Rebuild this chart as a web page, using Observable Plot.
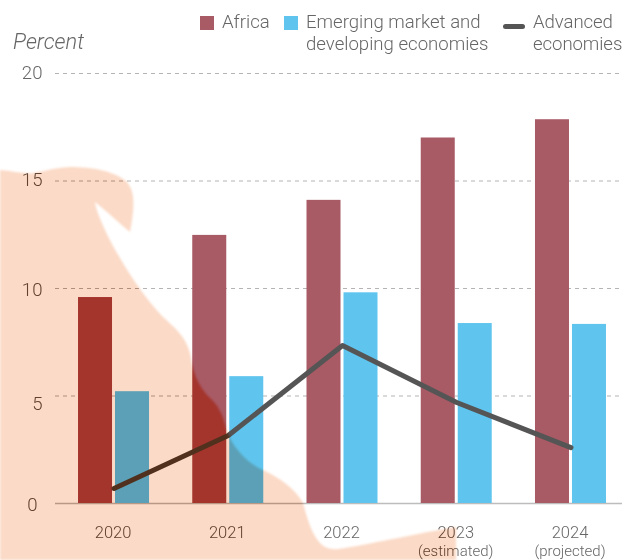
<!DOCTYPE html>
<html>
<head>
<meta charset="utf-8">
<script src="https://cdn.jsdelivr.net/npm/d3@7"></script>
<script src="https://cdn.jsdelivr.net/npm/@observablehq/plot@0.6"></script>
<style>
  html, body { margin: 0; padding: 0; background: #fff; }
  #page { position: relative; width: 622px; height: 560px; overflow: hidden; background: #fff; isolation: isolate;
          font-family: Roboto, "Liberation Sans", sans-serif; font-weight: 300; color: #666; }
  #chart { position: absolute; left: 0; top: 0; }
  #chart svg { display: block; overflow: visible; font-weight: 300; }
  .lg { position: absolute; font-size: 18.6px; line-height: 22px; white-space: pre; }
  .sw { position: absolute; width: 14px; height: 14px; top: 16px; }
  #blobwrap { position: absolute; left: 0; top: 0; width: 622px; height: 560px; mix-blend-mode: difference; filter: blur(1.2px); pointer-events: none; }
  #blob { width: 622px; height: 560px; background: rgb(4,37,56);
          clip-path: path("M-10,170 L0,170 C12,171 24,174 33,173 C42,172 52,168 70,167 C92,167 115,171 127,182 C135,192 135,205 130,232 C118,222 105,210 95,202 C96,212 108,238 120,258 C130,275 145,298 163,317 C175,328 188,338 191,358 C193,372 198,385 208,396 C218,405 222,412 226,428 C231,445 245,462 263,470 C278,477 295,488 303,503 C306,513 310,532 320,543 C327,550 335,550 345,548 C375,543 420,533 456,527 L456,570 L-10,570 Z"); }
</style>
</head>
<body>
<div id="page">
  <div id="chart"></div>
  <div class="lg" style="left:13px;top:31px;font-style:italic;font-size:21.8px;">Percent</div>
  <div class="sw" style="left:200px;background:#a85a65;"></div>
  <div class="lg" style="left:222px;top:11px;">Africa</div>
  <div class="sw" style="left:284px;background:#5fc5ee;"></div>
  <div class="lg" style="left:306px;top:11px;">Emerging market and
developing economies</div>
  <div style="position:absolute;left:503px;top:24px;width:22px;height:5px;border-radius:3px;background:#555;"></div>
  <div class="lg" style="left:533px;top:11px;letter-spacing:-0.08px;">Advanced
economies</div>
  <div id="blobwrap"><div id="blob"></div></div>
</div>
<script>
const years = ["2020", "2021", "2022", "2023", "2024"];
const subLabels = ["", "", "", "(estimated)", "(projected)"];
const africa = [9.58, 12.47, 14.1, 17.0, 17.85];
const emerging = [5.2, 5.9, 9.8, 8.37, 8.33];
const advanced = [0.7, 3.16, 7.35, 4.7, 2.6];
const yTicks = [0, 5, 10, 15, 20];
const yTickPadding = [18, 13, 13, 13, 13];
const yTickNudge = [2, 8, 2, -1, 0];

const rows = years.map((year, i) => ({year, africa: africa[i], emerging: emerging[i], advanced: advanced[i]}));

const plot = Plot.plot({
  width: 622,
  height: 560,
  marginLeft: 55,
  marginRight: 0,
  marginTop: 73,
  marginBottom: 57,
  style: {background: "transparent", fontFamily: 'Roboto, "Liberation Sans", sans-serif'},
  x: {domain: years, type: "band", range: [56.4, 627.6], paddingInner: 0.7024, paddingOuter: 0.3512, round: false, label: null},
  y: {domain: [0, 20], range: [503, 73], label: null},
  marks: [
    Plot.gridY(yTicks, {stroke: "#b4b4b4", strokeOpacity: 1, strokeWidth: 1, strokeDasharray: "4,4"}),
    Plot.ruleY([0], {stroke: "#bdbdbd", strokeWidth: 1.5}),
    Plot.barY(rows, {x: "year", y: "africa", dx: -18.5, fill: "#a85a65"}),
    Plot.barY(rows, {x: "year", y: "emerging", dx: 18.5, fill: "#5fc5ee"}),
    Plot.line(rows, {x: "year", y: "advanced", stroke: "#555", strokeWidth: 5, strokeLinecap: "round", strokeLinejoin: "round", curve: "linear"}),
    ...yTicks.map((t, i) => Plot.axisY([t], {tickSize: 0, tickPadding: yTickPadding[i], dy: yTickNudge[i], fontSize: 18.6, fill: "#666", anchor: "left", label: null})),
    Plot.axisX(years, {tickSize: 0, tickPadding: 23, fontSize: 16.5, fill: "#666", anchor: "bottom", label: null, dx: -1}),
    Plot.axisX(years, {tickSize: 0, tickPadding: 42, fontSize: 15, fill: "#666", anchor: "bottom", label: null, dx: -1,
      tickFormat: (d) => subLabels[years.indexOf(d)]})
  ]
});
document.getElementById("chart").appendChild(plot);
</script>
</body>
</html>
